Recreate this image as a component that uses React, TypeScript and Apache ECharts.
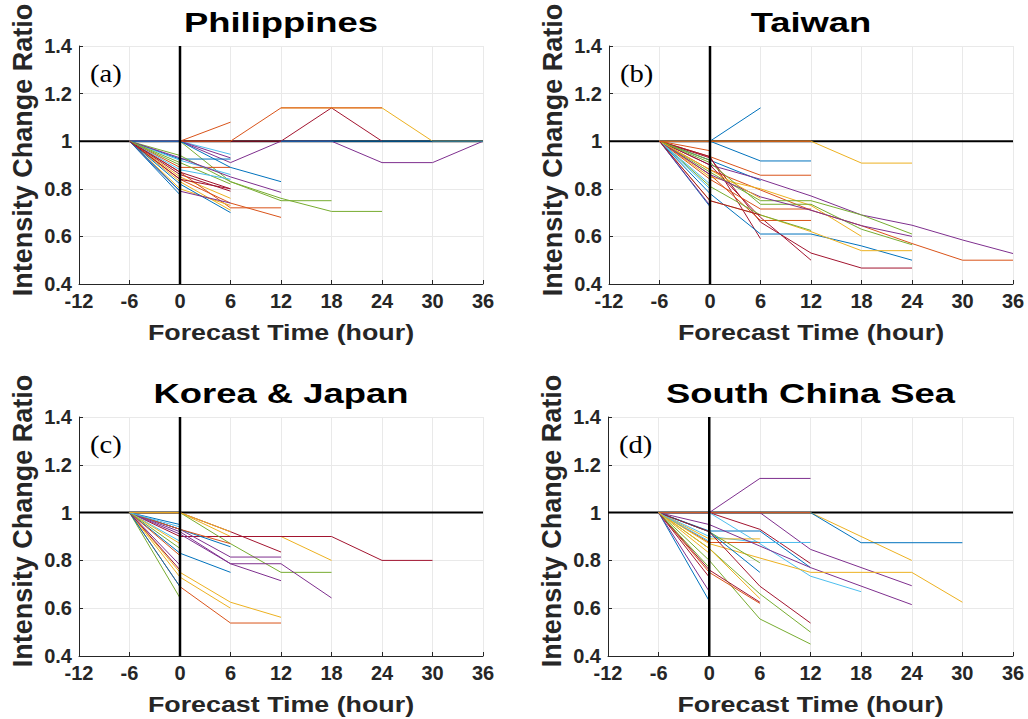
import React, { useEffect, useRef } from "react";
import * as echarts from "echarts";

// ---------- data ----------
const xTicks = [-12, -6, 0, 6, 12, 18, 24, 30, 36];
const yTicks = [0.4, 0.6, 0.8, 1.0, 1.2, 1.4];
const panelTitles = ["Philippines", "Taiwan", "Korea & Japan", "South China Sea"];
const panelTags = ["(a)", "(b)", "(c)", "(d)"];
const yAxisTitle = "Intensity Change Ratio";
const xAxisTitle = "Forecast Time (hour)";

// MATLAB default colour order
const C = ["#0072BD", "#D95319", "#EDB120", "#7E2F8E", "#77AC30", "#4DBEEE", "#A2142F"];

// Each track: [forecast hour, intensity ratio] pairs
const tracksA: number[][][] = [
  [[-6, 1], [0, 0.775]],
  [[-6, 1], [0, 1], [6, 1.08]],
  [[-6, 1], [0, 0.83], [6, 0.71]],
  [[-6, 1], [0, 1], [6, 0.91], [12, 1], [18, 1], [24, 0.91], [30, 0.91], [36, 1]],
  [[-6, 1], [0, 1], [6, 0.83], [12, 0.76], [18, 0.705], [24, 0.705]],
  [[-6, 1], [0, 1], [6, 0.945]],
  [[-6, 1], [0, 1], [12, 1], [18, 1.14], [24, 1]],
  [[-6, 1], [0, 0.925], [6, 0.925]],
  [[-6, 1], [0, 0.89], [6, 0.89]],
  [[-6, 1], [0, 0.85], [6, 0.76]],
  [[-6, 1], [0, 1], [6, 0.93]],
  [[-6, 1], [0, 0.94], [6, 0.83], [12, 0.75], [18, 0.75]],
  [[-6, 1], [0, 0.92], [6, 0.86]],
  [[-6, 1], [0, 0.86], [6, 0.79]],
  [[-6, 1], [0, 1], [6, 0.89], [12, 0.83]],
  [[-6, 1], [0, 0.87], [6, 0.72], [12, 0.72]],
  [[-6, 1], [0, 0.8], [6, 0.73]],
  [[-6, 1], [0, 0.93], [6, 0.85], [12, 0.785]],
  [[-6, 1], [0, 0.91], [6, 0.82]],
  [[-6, 1], [0, 0.88], [6, 0.84]],
  [[-6, 1], [0, 0.87], [6, 0.8]],
  [[-6, 1], [0, 0.82], [6, 0.7]],
  [[-6, 1], [0, 0.84], [6, 0.74], [12, 0.68]],
  [[12, 1.14], [24, 1.14], [30, 1], [36, 1]],
  [[0, 1], [6, 1], [12, 1.14], [24, 1.14]],
  [[-6, 1], [0, 0.79], [6, 0.74]],
  [[-6, 1], [0, 0.79]],
  [[-6, 1], [0, 0.9]],
  [[-6, 1], [0, 0.84], [6, 0.8]],
  [[12, 1], [24, 1], [36, 1]],
];
const colorsA = [0, 1, 2, 3, 4, 5, 6, 0, 1, 2, 3, 4, 5, 6, 0, 1, 2, 3, 4, 5, 6, 0, 1, 2, 1, 3, 0, 4, 6, 0];

const tracksB: number[][][] = [
  [[-6, 1], [0, 1], [6, 1.14]],
  [[-6, 1], [0, 1], [6, 0.917], [12, 0.917]],
  [[-6, 1], [0, 1], [12, 1], [18, 0.908], [24, 0.908]],
  [[-6, 1], [0, 0.935], [6, 0.857], [12, 0.857]],
  [[-6, 1], [0, 0.92], [6, 0.835]],
  [[-6, 1], [0, 0.9], [6, 0.84], [12, 0.77], [18, 0.69], [24, 0.647], [30, 0.585], [36, 0.528]],
  [[-6, 1], [0, 0.88], [12, 0.71], [18, 0.645], [24, 0.57], [30, 0.5], [36, 0.5]],
  [[-6, 1], [0, 0.93], [6, 0.66], [12, 0.53], [18, 0.467], [24, 0.467]],
  [[-6, 1], [0, 0.935], [6, 0.59]],
  [[-6, 1], [0, 0.9], [6, 0.68], [12, 0.5]],
  [[-6, 1], [0, 0.78], [6, 0.61], [12, 0.61], [18, 0.56], [24, 0.5]],
  [[-6, 1], [0, 0.725]],
  [[-6, 1], [0, 0.85], [6, 0.8], [12, 0.73], [18, 0.6]],
  [[-6, 1], [0, 0.75], [6, 0.69], [12, 0.62], [18, 0.54], [24, 0.54]],
  [[-6, 1], [0, 0.87], [6, 0.75], [12, 0.75], [18, 0.69], [24, 0.61]],
  [[-6, 1], [0, 0.91], [6, 0.735], [12, 0.735], [18, 0.63], [24, 0.565]],
  [[-6, 1], [0, 0.84], [6, 0.715], [12, 0.715]],
  [[-6, 1], [0, 0.86], [6, 0.667], [12, 0.667]],
  [[-6, 1], [0, 0.86], [6, 0.766], [12, 0.71], [18, 0.645], [24, 0.6]],
  [[-6, 1], [0, 0.81], [6, 0.69], [12, 0.625]],
  [[-6, 1], [0, 0.8]],
  [[-6, 1], [0, 0.82]],
  [[-6, 1], [0, 0.73]],
  [[-6, 1], [0, 0.88], [6, 0.76]],
  [[-6, 1], [0, 0.92]],
  [[-6, 1], [0, 0.75], [6, 0.69]],
  [[-6, 1], [0, 0.96]],
  [[-6, 1], [0, 1], [12, 1]],
];
const colorsB = [0, 0, 2, 1, 0, 3, 1, 6, 6, 6, 0, 0, 2, 2, 4, 4, 1, 1, 3, 4, 5, 5, 3, 2, 4, 6, 1, 1];

const tracksC: number[][][] = [
  [[-6, 1], [0, 1], [6, 0.92], [12, 0.835]],
  [[-6, 1], [0, 1], [6, 0.9], [12, 0.9], [18, 0.8]],
  [[-6, 1], [0, 0.9], [6, 0.9], [12, 0.9], [18, 0.9], [24, 0.8], [30, 0.8]],
  [[-6, 1], [0, 1], [6, 0.87], [12, 0.75], [18, 0.75]],
  [[-6, 1], [0, 0.93], [6, 0.814], [12, 0.814]],
  [[-6, 1], [0, 0.92], [6, 0.786], [12, 0.786], [18, 0.643]],
  [[-6, 1], [0, 0.91], [6, 0.786], [12, 0.715]],
  [[-6, 1], [0, 0.83], [6, 0.75]],
  [[-6, 1], [0, 0.93], [6, 0.857]],
  [[-6, 1], [0, 0.93], [6, 0.87]],
  [[-6, 1], [0, 0.75], [6, 0.625], [12, 0.562]],
  [[-6, 1], [0, 0.73], [6, 0.6]],
  [[-6, 1], [0, 0.69], [6, 0.538], [12, 0.538]],
  [[-6, 1], [0, 0.643]],
  [[-6, 1], [0, 0.69]],
  [[-6, 1], [0, 0.76]],
  [[-6, 1], [0, 0.88]],
  [[-6, 1], [0, 0.87]],
  [[-6, 1], [0, 0.82]],
  [[-6, 1], [0, 0.78]],
  [[-6, 1], [0, 0.85]],
  [[-6, 1], [0, 0.95]],
  [[-6, 1], [0, 1]],
  [[-6, 1], [0, 0.94]],
  [[-6, 1], [0, 1], [6, 0.92]],
];
const colorsC = [6, 2, 6, 4, 3, 3, 3, 0, 0, 1, 2, 2, 1, 4, 0, 6, 5, 2, 1, 3, 4, 0, 6, 5, 2];

const tracksD: number[][][] = [
  [[-6, 1], [0, 1], [6, 1.143], [12, 1.143]],
  [[-6, 1], [0, 1], [12, 1], [24, 0.8]],
  [[-6, 1], [0, 1], [12, 1], [18, 0.874], [30, 0.874]],
  [[-6, 1], [0, 1], [6, 1], [12, 0.846], [24, 0.694]],
  [[-6, 1], [0, 1], [6, 0.93], [12, 0.787]],
  [[-6, 1], [0, 0.923], [6, 0.923], [12, 0.77]],
  [[-6, 1], [0, 1], [6, 0.87], [12, 0.734], [18, 0.669]],
  [[-6, 1], [0, 0.9], [6, 0.875], [12, 0.875]],
  [[-6, 1], [0, 0.89], [6, 0.89]],
  [[-6, 1], [0, 0.875], [6, 0.875]],
  [[-6, 1], [0, 0.95], [6, 0.86], [12, 0.77], [24, 0.615]],
  [[-6, 1], [0, 0.87], [6, 0.81], [12, 0.75], [24, 0.75], [30, 0.625]],
  [[-6, 1], [0, 0.92], [6, 0.79]],
  [[-6, 1], [0, 0.92], [6, 0.75]],
  [[-6, 1], [0, 0.92], [6, 0.692], [12, 0.538]],
  [[-6, 1], [0, 0.85], [6, 0.66], [12, 0.5]],
  [[-6, 1], [0, 0.8], [6, 0.555], [12, 0.45]],
  [[-6, 1], [0, 0.75], [6, 0.62]],
  [[-6, 1], [0, 0.76], [6, 0.625]],
  [[-6, 1], [0, 0.85], [6, 0.64]],
  [[-6, 1], [0, 0.63]],
  [[-6, 1], [0, 0.67]],
  [[-6, 1], [0, 0.73]],
  [[-6, 1], [0, 0.77]],
  [[-6, 1], [0, 0.88]],
  [[-6, 1], [0, 1], [12, 1]],
  [[-6, 1], [0, 0.83]],
];
const colorsD = [3, 2, 0, 3, 6, 0, 5, 5, 2, 1, 3, 2, 4, 0, 6, 4, 4, 1, 6, 2, 0, 3, 6, 4, 5, 1, 2];

const panelTracks = [tracksA, tracksB, tracksC, tracksD];
const panelColors = [colorsA, colorsB, colorsC, colorsD];

// ---------- layout ----------
const grids = [
  { left: 79, top: 46, width: 404, height: 238 },
  { left: 609, top: 46, width: 404, height: 238 },
  { left: 79, top: 417, width: 404, height: 239 },
  { left: 608, top: 417, width: 405, height: 239 },
];
const FONT = "Arial, 'Liberation Sans', Helvetica, sans-serif";
const TXT = "#262626";

function buildOption() {
  const xAxis: any[] = [];
  const yAxis: any[] = [];
  const series: any[] = [];
  const graphic: any[] = [];

  grids.forEach((g, i) => {
    xAxis.push({
      type: "value",
      gridIndex: i,
      min: xTicks[0],
      max: xTicks[xTicks.length - 1],
      interval: 6,
      axisLine: { show: true, onZero: false, lineStyle: { color: TXT, width: 1 } },
      axisTick: { show: true, inside: true, length: 4, lineStyle: { color: TXT } },
      axisLabel: { fontSize: 20, fontWeight: "bold", fontFamily: FONT, color: TXT, margin: 7 },
      splitLine: { show: true, lineStyle: { color: "#e9e9e9", width: 1 } },
    });
    yAxis.push({
      type: "value",
      gridIndex: i,
      min: yTicks[0],
      max: yTicks[yTicks.length - 1],
      interval: 0.2,
      axisLine: { show: true, onZero: false, lineStyle: { color: TXT, width: 1 } },
      axisTick: { show: true, inside: true, length: 4, lineStyle: { color: TXT } },
      axisLabel: {
        fontSize: 20,
        fontWeight: "bold",
        fontFamily: FONT,
        color: TXT,
        margin: 7,
        formatter: (v: number) => String(Math.round(v * 10) / 10),
      },
      splitLine: { show: true, lineStyle: { color: "#e9e9e9", width: 1 } },
    });

    // horizontal reference line at ratio 1 (under tracks)
    series.push({
      type: "line",
      xAxisIndex: i,
      yAxisIndex: i,
      data: [[xTicks[0], 1], [xTicks[xTicks.length - 1], 1]],
      symbol: "none",
      silent: true,
      lineStyle: { color: "#000", width: 2 },
      z: 2,
    });
    panelTracks[i].forEach((t, k) => {
      series.push({
        type: "line",
        xAxisIndex: i,
        yAxisIndex: i,
        data: t,
        symbol: "none",
        silent: true,
        lineStyle: { color: C[panelColors[i][k]], width: 1 },
        z: 3,
      });
    });
    // vertical line at forecast hour 0 (over tracks)
    series.push({
      type: "line",
      xAxisIndex: i,
      yAxisIndex: i,
      data: [[0, yTicks[0]], [0, yTicks[yTicks.length - 1]]],
      symbol: "none",
      silent: true,
      lineStyle: { color: "#000", width: 2.5 },
      z: 4,
    });

    const cx = g.left + g.width / 2;
    const rowShift = g.top - 46;
    // title
    graphic.push({
      type: "text",
      x: cx,
      y: 23 + rowShift,
      scaleX: 1.3,
      style: {
        text: panelTitles[i],
        fill: "#000",
        font: `bold 28px ${FONT}`,
        align: "center",
        verticalAlign: "middle",
      },
    });
    // x axis name
    graphic.push({
      type: "text",
      x: cx,
      y: (i < 2 ? 332 : 704),
      scaleX: 1.22,
      style: {
        text: xAxisTitle,
        fill: TXT,
        font: `bold 22px ${FONT}`,
        align: "center",
        verticalAlign: "middle",
      },
    });
    // y axis name
    graphic.push({
      type: "text",
      x: g.left - 56,
      y: g.top + 104,
      rotation: Math.PI / 2,
      style: {
        text: yAxisTitle,
        fill: TXT,
        font: `bold 27px ${FONT}`,
        align: "center",
        verticalAlign: "middle",
      },
    });
    // panel tag
    graphic.push({
      type: "text",
      x: g.left + 11,
      y: g.top + 27,
      scaleX: 1.1,
      style: {
        text: panelTags[i],
        fill: "#000",
        font: `26px 'Liberation Serif', 'DejaVu Serif', serif`,
        align: "left",
        verticalAlign: "middle",
      },
    });
  });

  return {
    animation: false,
    backgroundColor: "#fff",
    grid: grids.map((g) => ({ ...g, containLabel: false })),
    xAxis,
    yAxis,
    series,
    graphic,
  };
}

export default function App() {
  const ref = useRef<HTMLDivElement>(null);
  useEffect(() => {
    if (!ref.current) return;
    const chart = echarts.init(ref.current, undefined, { renderer: "svg" });
    chart.setOption(buildOption() as any);
    return () => chart.dispose();
  }, []);
  return (
    <div
      ref={ref}
      style={{ position: "absolute", left: 0, top: 0, width: 1028, height: 719, background: "#fff" }}
    />
  );
}
